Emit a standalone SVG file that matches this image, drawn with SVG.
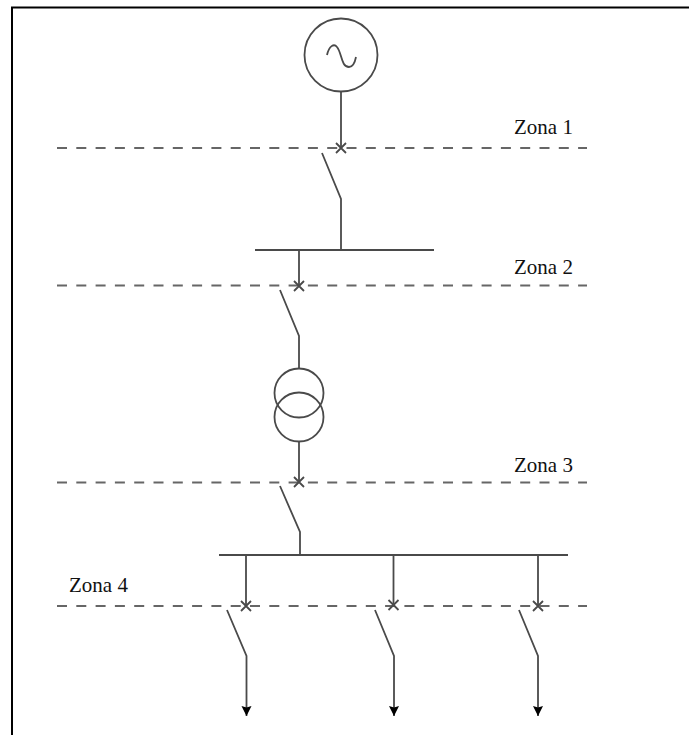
<svg xmlns="http://www.w3.org/2000/svg" width="689" height="735" viewBox="0 0 689 735">
<defs>
<style>
.bd{stroke:#000;stroke-width:2;fill:none}
.z{stroke:#666;stroke-width:2;stroke-dasharray:10 9.300;fill:none}
.w{stroke:#4a4a4a;stroke-width:1.800;fill:none}
.c{stroke:#4a4a4a;stroke-width:1.800;fill:#fff}
.t{font-family:"Liberation Serif","Times New Roman",serif;font-size:21px;fill:#111}
</style>
<marker id="ah" markerUnits="userSpaceOnUse" markerWidth="12" markerHeight="12" refX="10" refY="5.500" orient="auto"><path d="M0 0.500L1.500 5.500L0 10.500L10 5.500Z" fill="#000"/></marker>
</defs>
<rect width="689" height="735" fill="#fff"/>
<path class="bd" d="M12 735V7.500H689"/>
<g id="zones">
<path class="z" d="M57 148H587"/>
<path class="z" d="M57 285.500H587"/>
<path class="z" d="M57 482.500H587"/>
<path class="z" d="M57 606H587"/>
</g>
<g id="connectors">
<path class="w" d="M341 92V148"/>
<path class="w" d="M322 153L341 199V250"/>
<path class="w" d="M299 250V286"/>
<path class="w" d="M280 290L299 336V369"/>
<path class="w" d="M299 441V482"/>
<path class="w" d="M280 486L300 532V555"/>
<path class="w" d="M246 555V606"/>
<path class="w" d="M393.500 555V606"/>
<path class="w" d="M538 555V606"/>
<path class="w" d="M227 610L246.500 656V716" marker-end="url(#ah)"/>
<path class="w" d="M375 610L394 656V716" marker-end="url(#ah)"/>
<path class="w" d="M519 610L538 656V716" marker-end="url(#ah)"/>
<path class="w" d="M336 143L346 153M346 143L336 153"/>
<path class="w" d="M294 281L304 291M304 281L294 291"/>
<path class="w" d="M294 477L304 487M304 477L294 487"/>
<path class="w" d="M241 601L251 611M251 601L241 611"/>
<path class="w" d="M388.500 600L398.500 610M398.500 600L388.500 610"/>
<path class="w" d="M533 601L543 611M543 601L533 611"/>
</g>
<g id="generator"><circle class="c" cx="341" cy="55" r="36.500"/><path class="w" d="M327 55C329 46 334 43 337 47C342 53 341 67 349 67C353 67 355 62 356 57"/></g>
<g id="busbar-1"><path class="w" d="M255 250H434"/></g>
<g id="transformer">
<circle class="w" cx="299" cy="393" r="24.500"/>
<circle class="w" cx="299" cy="417" r="24.500" stroke-width="2"/>
</g>
<g id="busbar-2"><path class="w" d="M219 555H568"/></g>
<g id="label-1"><text class="t" x="514" y="134">Zona 1</text></g>
<g id="label-2"><text class="t" x="514" y="274">Zona 2</text></g>
<g id="label-3"><text class="t" x="514" y="472">Zona 3</text></g>
<g id="label-4"><text class="t" x="69" y="592">Zona 4</text></g>
</svg>
